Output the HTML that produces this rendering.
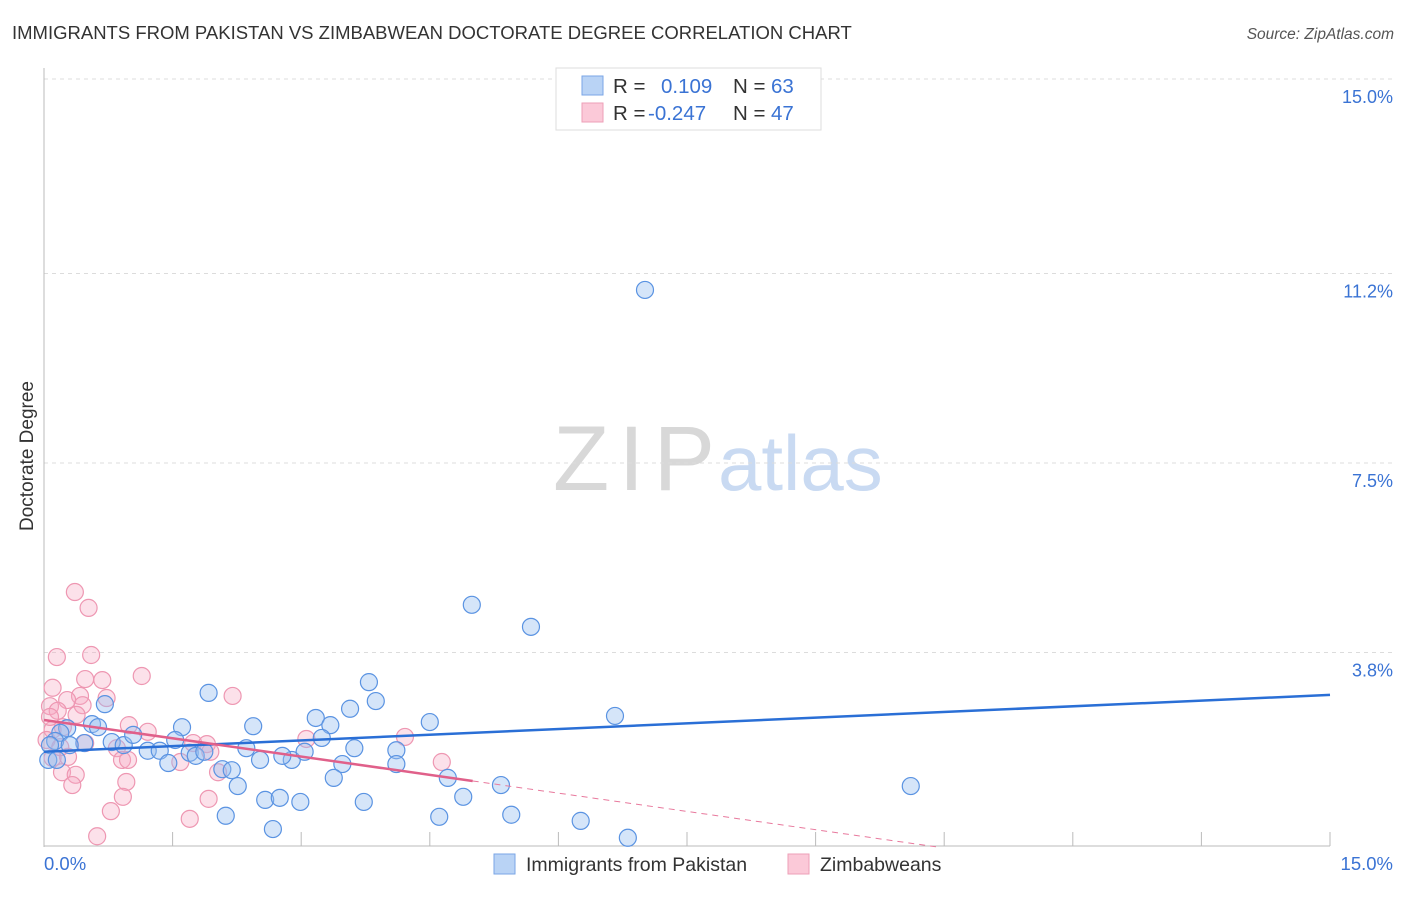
<!DOCTYPE html>
<html><head><meta charset="utf-8"><style>
body{margin:0;background:#fff;font-family:"Liberation Sans",sans-serif}
svg text{font-family:"Liberation Sans",sans-serif}
</style></head><body>
<svg id="c" width="1406" height="892" xmlns="http://www.w3.org/2000/svg">
<text x="12" y="39" font-size="18.5" fill="#333">IMMIGRANTS FROM PAKISTAN VS ZIMBABWEAN DOCTORATE DEGREE CORRELATION CHART</text>
<text x="1394" y="39" font-size="15.5" fill="#555" font-style="italic" text-anchor="end">Source: ZipAtlas.com</text>
<text transform="translate(33,456) rotate(-90)" font-size="19" fill="#333" text-anchor="middle">Doctorate Degree</text>
<g>
<text x="553" y="490" font-size="92" fill="#d8d8d8" font-family="Liberation Serif,serif" textLength="162">ZIP</text>
<text x="718" y="490" font-size="78" fill="#c9daf2">atlas</text>
</g>
<g id="grid"></g><g id="axes"></g><g id="pts"></g><g id="trend"></g>
<g>
<rect x="556" y="68" width="265" height="62" fill="#fff" stroke="#ddd"/>
<rect x="582" y="76" width="21" height="19" fill="#b9d3f5" stroke="#7aa6e6"/>
<rect x="582" y="103" width="21" height="19" fill="#fbc9d8" stroke="#ee9fb7"/>
<text x="613" y="93" font-size="20.5" fill="#333"><tspan>R = </tspan><tspan x="661" fill="#3a73d4">0.109</tspan><tspan x="733">N = </tspan><tspan x="771" fill="#3a73d4">63</tspan></text>
<text x="613" y="120" font-size="20.5" fill="#333"><tspan>R = </tspan><tspan x="648" fill="#3a73d4">-0.247</tspan><tspan x="733">N = </tspan><tspan x="771" fill="#3a73d4">47</tspan></text>
</g>
<g>
<rect x="494" y="854" width="21" height="20" fill="#b9d3f5" stroke="#7aa6e6"/>
<text x="526" y="871" font-size="19.5" fill="#333">Immigrants from Pakistan</text>
<rect x="788" y="854" width="21" height="20" fill="#fbc9d8" stroke="#ee9fb7"/>
<text x="820" y="871" font-size="19.5" fill="#333">Zimbabweans</text>
</g>
</svg>
<script>
const yTicks=[15.0,11.2,7.5,3.8];
const yTickLabels=["15.0%","11.2%","7.5%","3.8%"];
const xTickLabels=["0.0%","15.0%"];
const blueX=[7.01,4.99,5.68,3.79,3.87,3.57,1.92,0.71,3.17,3.34,4.50,6.66,1.61,2.44,0.56,0.63,0.27,0.19,0.13,0.07,0.05,0.47,0.79,0.93,1.04,1.21,1.35,1.45,1.53,1.70,1.77,1.87,2.08,2.19,2.26,2.36,2.52,2.89,2.78,3.04,3.24,3.62,3.48,4.11,4.11,4.71,5.33,3.38,3.73,4.89,2.58,2.75,2.99,2.12,4.61,5.45,6.26,2.67,6.81,10.11,0.30,0.15];
const blueY=[10.88,4.73,4.30,3.22,2.85,2.70,3.01,2.79,2.52,2.38,2.44,2.56,2.34,2.36,2.40,2.34,2.32,2.23,2.07,1.99,1.70,2.03,2.05,1.99,2.19,1.88,1.88,1.64,2.09,1.84,1.78,1.86,1.52,1.50,1.19,1.93,1.70,1.70,1.78,1.86,2.13,1.93,1.62,1.89,1.62,1.35,1.21,1.35,0.88,0.98,0.92,0.96,0.88,0.61,0.59,0.63,0.51,0.35,0.18,1.19,1.99,1.70];
const pinkX=[0.36,0.52,0.15,0.55,1.14,0.48,0.68,0.10,0.73,2.20,0.42,0.27,0.45,0.07,0.16,0.38,0.22,0.99,1.21,0.10,0.48,3.06,4.21,1.74,1.90,1.94,0.85,1.59,0.91,0.98,0.28,0.10,4.64,0.21,0.37,0.33,2.03,0.96,0.92,1.92,0.78,1.70,0.62,0.07,0.03,0.19];
const pinkY=[4.98,4.67,3.71,3.75,3.34,3.28,3.26,3.11,2.91,2.95,2.95,2.87,2.77,2.75,2.66,2.58,2.34,2.38,2.25,2.29,2.03,2.11,2.15,2.03,2.01,1.86,1.93,1.66,1.70,1.70,1.76,1.74,1.66,1.46,1.41,1.21,1.46,1.27,0.98,0.94,0.70,0.55,0.21,2.54,2.09,1.95];
const blueTrend=[1.86,2.97];      // y at x=0 and x=15
const pinkTrend=[2.48,-0.238];    // intercept, slope
const pinkSolidEnd=5.0;
const NS="http://www.w3.org/2000/svg";
const X=v=>44+v*(1286/15), Y=v=>847-v*(768/15);
function mk(t,a,p){const e=document.createElementNS(NS,t);for(const k in a)e.setAttribute(k,a[k]);document.getElementById(p).appendChild(e);return e;}
yTicks.forEach((t,i)=>{
 const g=mk('line',{x1:44,x2:1393,y1:Y(t),y2:Y(t),stroke:'#dcdcdc','stroke-dasharray':'4,4'},'grid');
 
 
 const l=mk('text',{x:1393,y:Y(t)+24,'text-anchor':'end','font-size':18,fill:'#3a73d4'},'axes');l.textContent=yTickLabels[i];
 
 
});
let ax=mk('line',{x1:44,x2:44,y1:68,y2:847,stroke:'#bbb'},'axes');


ax=mk('line',{x1:44,x2:1330,y1:846,y2:846,stroke:'#bbb'},'axes');


for(let i=1;i<=10;i++){const t=mk('line',{x1:X(i*1.5),x2:X(i*1.5),y1:832,y2:846,stroke:'#bbb'},'axes');
 
 }
[[0,'start',44],[1,'end',1393]].forEach(([i,a,x])=>{const l=mk('text',{x:x,y:870,'text-anchor':a,'font-size':18.5,fill:'#3a73d4'},'axes');l.textContent=xTickLabels[i];
 
 });
pinkX.forEach((v,i)=>{const c=mk('circle',{cx:X(v),cy:Y(pinkY[i]),r:8.5,fill:'rgba(246,168,194,0.35)',stroke:'#ee97b2','stroke-width':1.2},'pts');
 
 });
blueX.forEach((v,i)=>{const c=mk('circle',{cx:X(v),cy:Y(blueY[i]),r:8.5,fill:'rgba(150,190,240,0.4)',stroke:'#5a93e2','stroke-width':1.2},'pts');
 
 });
let t=mk('line',{x1:X(0),y1:Y(blueTrend[0]),x2:X(15),y2:Y(blueTrend[1]),stroke:'#2a6fd6','stroke-width':2.5},'trend');


const pe=-pinkTrend[0]/pinkTrend[1];
t=mk('line',{x1:X(pinkSolidEnd),y1:Y(pinkTrend[0]+pinkTrend[1]*pinkSolidEnd),x2:X(pe),y2:Y(0),stroke:'#e8799d','stroke-width':1,'stroke-dasharray':'6,5'},'trend');


t=mk('line',{x1:X(0),y1:Y(pinkTrend[0]),x2:X(pinkSolidEnd),y2:Y(pinkTrend[0]+pinkTrend[1]*pinkSolidEnd),stroke:'#e0608a','stroke-width':2.5},'trend');


</script>
</body></html>
